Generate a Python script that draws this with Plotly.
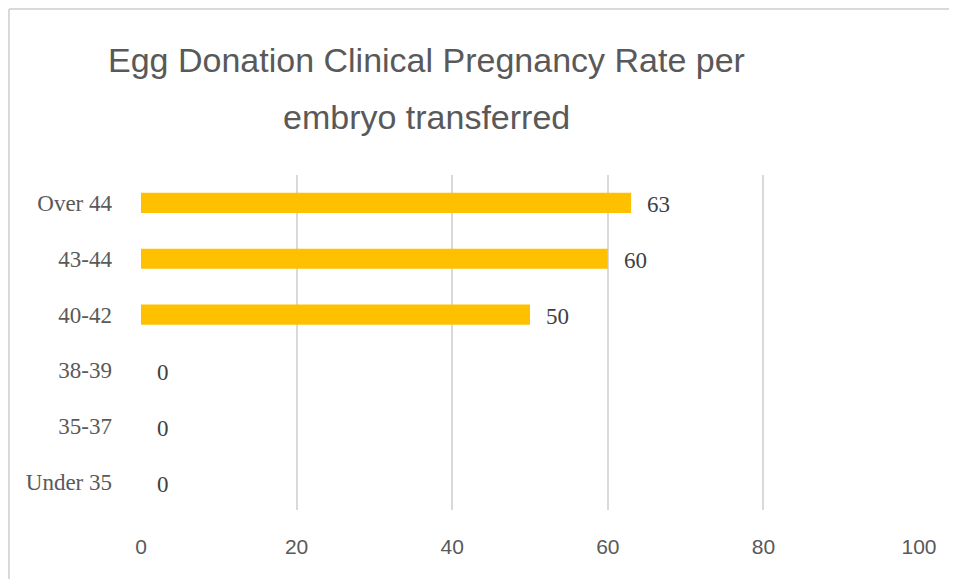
import plotly.graph_objects as go

categories = ["Under 35", "35-37", "38-39", "40-42", "43-44", "Over 44"]
values = [0, 0, 0, 50, 60, 63]
x_ticks = [0, 20, 40, 60, 80, 100]
title_line1 = "Egg Donation Clinical Pregnancy Rate per"
title_line2 = "embryo transferred"

# page is rendered with an 8px body margin, so figure coords = page coords - 8
OFF = 8
W, H = 957 - OFF, 579 - OFF
L, T = 141 - OFF, 175 - OFF
R = W - (919 - OFF)
B = H - (510 - OFF)
pw, ph = W - L - R, H - T - B

fig = go.Figure()
fig.add_trace(go.Bar(
    y=categories, x=values, orientation="h",
    marker=dict(color="#FFC000", line=dict(width=0)),
    width=0.36, hoverinfo="skip",
))

for c, v in zip(categories, values):
    fig.add_annotation(x=v, y=c, xref="x", yref="y", text=str(v),
                       showarrow=False, xanchor="left", xshift=14, yshift=-2,
                       font=dict(family="Liberation Serif", size=23, color="#404040"))

def px2x(p):
    return (p - OFF - L) / pw

def py2y(p):
    return (H - B - (p - OFF)) / ph

border = dict(color="#D9D9D9", width=2)
fig.add_shape(type="line", xref="paper", yref="paper",
              x0=px2x(OFF + 1), x1=px2x(960), y0=py2y(OFF + 1), y1=py2y(OFF + 1), line=border)
fig.add_shape(type="line", xref="paper", yref="paper",
              x0=px2x(OFF + 1), x1=px2x(OFF + 1), y0=py2y(OFF + 1), y1=py2y(582), line=border)

title_font = dict(family="Liberation Sans Narrow, Liberation Sans", size=34, color="#595959")
fig.add_annotation(xref="paper", yref="paper", x=px2x(426), y=py2y(60),
                   xanchor="center", yanchor="middle", text=title_line1, showarrow=False,
                   font=title_font)
fig.add_annotation(xref="paper", yref="paper", x=px2x(426), y=py2y(117),
                   xanchor="center", yanchor="middle", text=title_line2, showarrow=False,
                   font=title_font)

fig.update_layout(
    width=W, height=H,
    margin=dict(l=L, r=R, t=T, b=B),
    paper_bgcolor="white", plot_bgcolor="white",
    showlegend=False,
    xaxis=dict(range=[0, 100], tickvals=x_ticks, showgrid=True, gridcolor="#D9D9D9",
               gridwidth=1.5, zeroline=False, showline=False,
               tickfont=dict(family="Liberation Sans Narrow, Liberation Sans", size=21, color="#595959"),
               ticklabelstandoff=22, fixedrange=True),
    yaxis=dict(categoryorder="array", categoryarray=categories, showgrid=False,
               zeroline=False, showline=False,
               tickfont=dict(family="Liberation Serif", size=23, color="#595959"),
               ticklabelstandoff=28, fixedrange=True),
)

fig.write_html("out.html")
